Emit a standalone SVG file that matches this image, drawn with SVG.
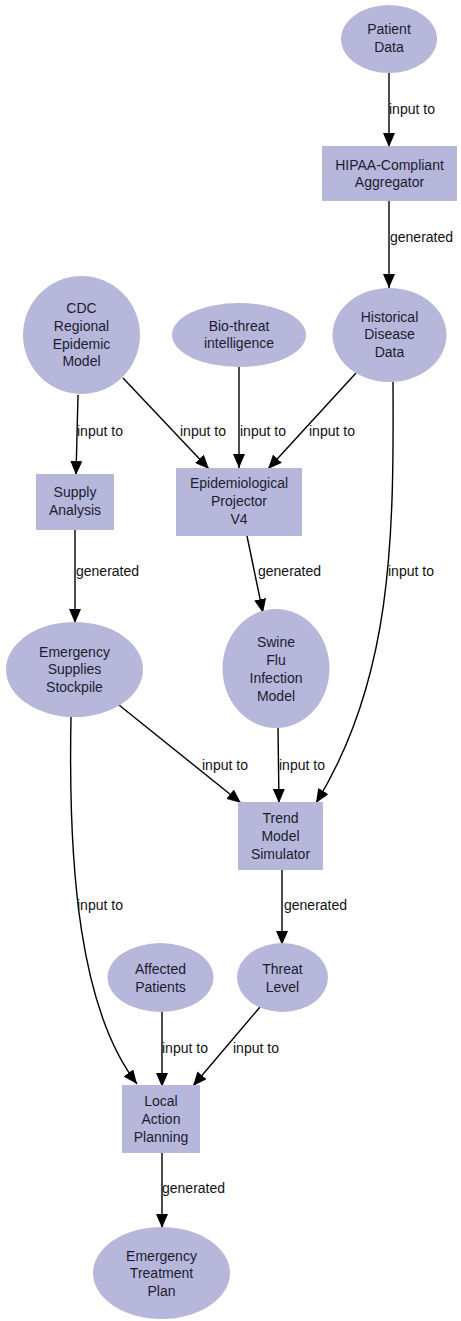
<svg xmlns="http://www.w3.org/2000/svg" width="461" height="1321" viewBox="0 0 461 1321">
<defs>
<style>
.n{fill:#b7b7db;stroke:none}
.t{font-family:"Liberation Sans",Arial,sans-serif;font-size:14px;fill:#1c1c30;text-anchor:middle}
.l{font-family:"Liberation Sans",Arial,sans-serif;font-size:14px;fill:#111;text-anchor:start}
.e{fill:none;stroke:#000;stroke-width:1.4;marker-end:url(#ah)}
</style>
<marker id="ah" markerUnits="userSpaceOnUse" markerWidth="14" markerHeight="12" refX="14" refY="6" orient="auto" viewBox="0 0 14 12">
<path d="M0,0 L14,6 L0,12 z" fill="#000"/>
</marker>
</defs>
<rect width="461" height="1321" fill="#fff"/>
<g id="connectors">
<path class="e" d="M389,73 L389,147"/>
<text class="l" x="389" y="114">input to</text>
<path class="e" d="M389,201 L389,288"/>
<text class="l" x="390" y="242">generated</text>
<path class="e" d="M78,395 L76,475"/>
<text class="l" x="77" y="436">input to</text>
<path class="e" d="M123,378 L209,469"/>
<text class="l" x="180" y="436">input to</text>
<path class="e" d="M239,367 L239,468"/>
<text class="l" x="240" y="436">input to</text>
<path class="e" d="M356,373 L268,469"/>
<text class="l" x="309" y="436">input to</text>
<path class="e" d="M393,382 C394,540 392,680 316,803"/>
<text class="l" x="388" y="576">input to</text>
<path class="e" d="M75,530 L75,623"/>
<text class="l" x="76" y="576">generated</text>
<path class="e" d="M247,536 L263,613"/>
<text class="l" x="258" y="576">generated</text>
<path class="e" d="M119,705 L241,803"/>
<text class="l" x="202" y="770">input to</text>
<path class="e" d="M278,728 L279,803"/>
<text class="l" x="279" y="770">input to</text>
<path class="e" d="M282,870 L282,945"/>
<text class="l" x="284" y="910">generated</text>
<path class="e" d="M71,717 C68,870 80,1010 137,1084"/>
<text class="l" x="77" y="910">input to</text>
<path class="e" d="M162,1012 L162,1087"/>
<text class="l" x="162" y="1053">input to</text>
<path class="e" d="M260,1007 L193,1086"/>
<text class="l" x="233" y="1053">input to</text>
<path class="e" d="M162,1153 L162,1228"/>
<text class="l" x="162" y="1193">generated</text>
</g>
<g id="patient-data"><ellipse class="n" cx="389" cy="39" rx="48" ry="34"/><text class="t" x="389" y="34">Patient</text><text class="t" x="389" y="52">Data</text></g>
<g id="hipaa-aggregator"><rect class="n" x="322" y="146" width="135" height="55"/><text class="t" x="389.5" y="170">HIPAA-Compliant</text><text class="t" x="389.5" y="187">Aggregator</text></g>
<g id="historical-disease-data"><ellipse class="n" cx="389.5" cy="335" rx="57" ry="47"/><text class="t" x="389.5" y="322">Historical</text><text class="t" x="389.5" y="339">Disease</text><text class="t" x="389.5" y="357">Data</text></g>
<g id="cdc-model"><ellipse class="n" cx="81.5" cy="335" rx="58.5" ry="59"/><text class="t" x="81.5" y="313">CDC</text><text class="t" x="81.5" y="331">Regional</text><text class="t" x="81.5" y="349">Epidemic</text><text class="t" x="81.5" y="366">Model</text></g>
<g id="bio-threat"><ellipse class="n" cx="239" cy="335" rx="67" ry="32"/><text class="t" x="239" y="331">Bio-threat</text><text class="t" x="239" y="348">intelligence</text></g>
<g id="epi-projector"><rect class="n" x="176" y="468" width="126" height="68"/><text class="t" x="239" y="488">Epidemiological</text><text class="t" x="239" y="506">Projector</text><text class="t" x="239" y="524">V4</text></g>
<g id="supply-analysis"><rect class="n" x="36" y="474" width="78" height="56"/><text class="t" x="75" y="497">Supply</text><text class="t" x="75" y="515">Analysis</text></g>
<g id="emergency-supplies"><ellipse class="n" cx="74.5" cy="669.5" rx="68.5" ry="47.5"/><text class="t" x="74.5" y="657">Emergency</text><text class="t" x="74.5" y="674">Supplies</text><text class="t" x="74.5" y="692">Stockpile</text></g>
<g id="swine-flu-model"><ellipse class="n" cx="276" cy="668.5" rx="53.5" ry="59.5"/><text class="t" x="276" y="647">Swine</text><text class="t" x="276" y="665">Flu</text><text class="t" x="276" y="683">Infection</text><text class="t" x="276" y="701">Model</text></g>
<g id="trend-simulator"><rect class="n" x="238" y="802" width="85" height="68"/><text class="t" x="280.5" y="823">Trend</text><text class="t" x="280.5" y="841">Model</text><text class="t" x="280.5" y="859">Simulator</text></g>
<g id="affected-patients"><ellipse class="n" cx="160.5" cy="977.5" rx="53" ry="34.5"/><text class="t" x="160.5" y="974">Affected</text><text class="t" x="160.5" y="992">Patients</text></g>
<g id="threat-level"><ellipse class="n" cx="282.5" cy="977.5" rx="45.5" ry="34.5"/><text class="t" x="282.5" y="974">Threat</text><text class="t" x="282.5" y="992">Level</text></g>
<g id="local-action-planning"><rect class="n" x="122" y="1085" width="78" height="68"/><text class="t" x="161" y="1106">Local</text><text class="t" x="161" y="1124">Action</text><text class="t" x="161" y="1142">Planning</text></g>
<g id="emergency-treatment-plan"><ellipse class="n" cx="161.5" cy="1273" rx="68.5" ry="46"/><text class="t" x="161.5" y="1261">Emergency</text><text class="t" x="161.5" y="1278">Treatment</text><text class="t" x="161.5" y="1296">Plan</text></g>
</svg>
